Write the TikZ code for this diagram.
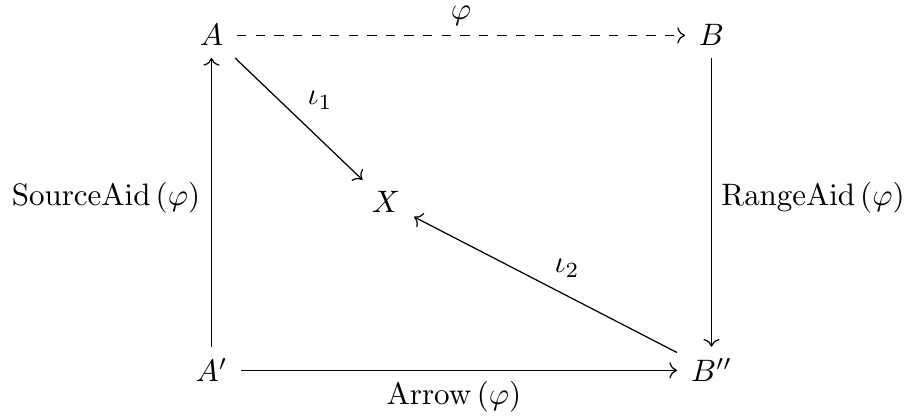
\documentclass[tikz,border=0pt]{standalone}
\usetikzlibrary{arrows.meta}
\begin{document}
\begin{tikzpicture}[x=0.3226pt,y=-0.3226pt,
  obj/.style={anchor=base, inner xsep=1ex, inner ysep=0.85ex},
  lbl/.style={anchor=base, inner sep=0pt},
  arr/.style={-{Computer Modern Rightarrow}, line width=0.4pt}]
\useasboundingbox (0,0) rectangle (909,419);
\node[obj] (A)   at (211.5,46)  {$A$};
\node[obj] (B)   at (711.5,46)  {$B$};
\node[obj] (X)   at (386,213) {$X$};
\node[obj] (Ap)  at (211.5,382) {$A'$};
\node[obj] (Bpp) at (711.5,382) {$B''$};
\draw[arr,dashed] (A) -- (B);
\draw[arr] (A) -- (X);
\draw[arr] (Bpp) -- (X);
\draw[arr] (B) -- (Bpp);
\draw[arr] (Ap) -- (A);
\draw[arr] (Ap) -- (Bpp);
\node[lbl] (lphi)  at (461,20)  {$\varphi$};
\node[lbl] (liota1) at (320,105) {$\iota_1$};
\node[lbl] (liota2) at (567,273) {$\iota_2$};
\node[lbl] (lsrc)  at (106,206) {$\mathrm{SourceAid}\left(\varphi\right)$};
\node[lbl] (lrng)  at (813,206) {$\mathrm{RangeAid}\left(\varphi\right)$};
\node[lbl] (larr)  at (454,405) {$\mathrm{Arrow}\left(\varphi\right)$};
\end{tikzpicture}
\end{document}
